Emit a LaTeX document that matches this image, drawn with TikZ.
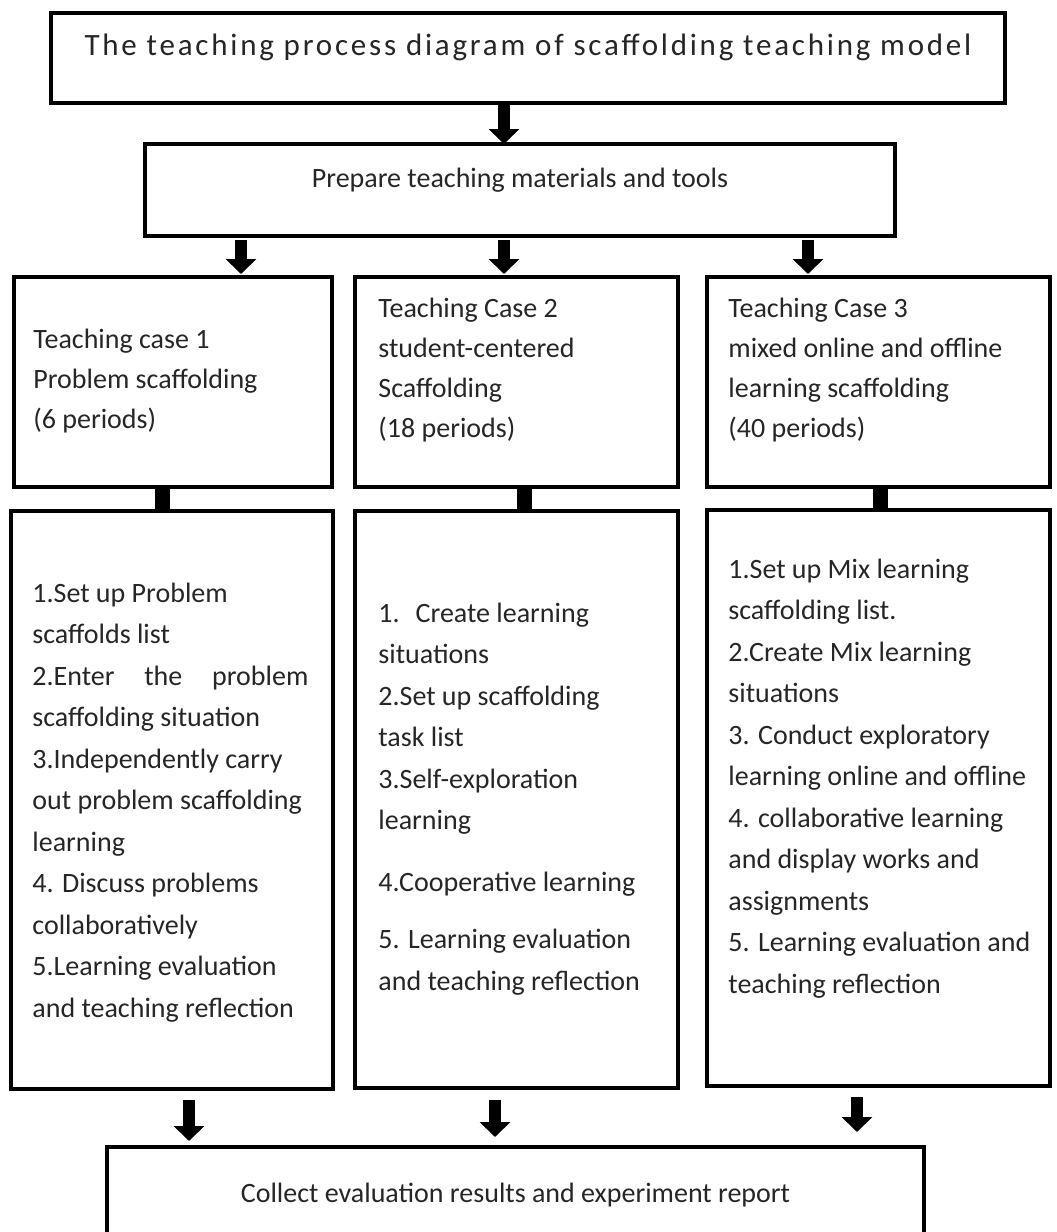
\documentclass[tikz,border=0pt]{standalone}
\usepackage{fontspec}
\setmainfont{Carlito}
\usetikzlibrary{arrows.meta,fit}
\begin{document}
\begin{tikzpicture}[x=0.5pt,y=-0.5pt,
  frame/.style={draw, line width=1.6pt, inner sep=0pt, outer sep=0pt},
  body/.style={align=flush left, inner sep=0pt, text=black!85, font=\fontsize{14}{20}\selectfont},
  listtext/.style={body, font=\fontsize{14}{20.75}\selectfont},
  blockarrow/.style={line width=6pt, -{Triangle[width=15pt,length=7.5pt]}},
  stem/.style={line width=7.75pt}]
\clip (0,0) rectangle (1056,1232);
\fill[white] (0,0) rectangle (1056,1232);

% column positions of the arrows and stems
\coordinate (m0) at (504,0);
\coordinate (m1) at (241,0);
\coordinate (m2) at (504,0);
\coordinate (m3) at (808,0);
\coordinate (k1) at (162.5,0);
\coordinate (k2) at (524.5,0);
\coordinate (k3) at (880.5,0);
\coordinate (n1) at (189,0);
\coordinate (n2) at (495,0);
\coordinate (n3) at (857,0);

% heading and preparation
\node[frame, fit={(51,13)(1005,103)}, text=black!85,
      font=\fontsize{15.5}{18}\selectfont\addfontfeatures{LetterSpace=9}] (title)
  {The teaching process diagram of scaffolding teaching model};
\node[frame, fit={(145,144)(895,236)}, text=black!85,
      font=\fontsize{14}{18}\selectfont] (prep)
  {Prepare teaching materials and tools};

% the three teaching cases
\node[frame, fit={(14,277)(332,487)}] (c1) {};
\node[frame, fit={(355,277)(678,487)}] (c2) {};
\node[frame, fit={(707,277)(1050,487)}] (c3) {};
\node[body, anchor=base west, text width=145pt] (c1t) at (33,348)
  {Teaching case 1\\Problem scaffolding\\(6 periods)};
\node[body, anchor=base west, text width=145pt] (c2t) at (378,317)
  {Teaching Case 2\\student-centered\\Scaffolding\\(18 periods)};
\node[body, anchor=base west, text width=160pt] (c3t) at (728,317)
  {Teaching Case 3\\mixed online and offline\\learning scaffolding\\(40 periods)};

% the steps of each case
\node[frame, fit={(11,511)(333,1089)}] (l1) {};
\node[frame, fit={(355,511)(678,1088)}] (l2) {};
\node[frame, fit={(707,510)(1050,1086)}] (l3) {};
\node[listtext, anchor=base west, text width=138pt] (l1t) at (32,602)
  {1.Set up Problem\\
   scaffolds list\\
   2.Enter\hfill the\hfill problem\\
   scaffolding situation\\
   3.Independently carry\\
   out problem scaffolding\\
   learning\\
   4. Discuss problems\\
   collaboratively\\
   5.Learning evaluation\\
   and teaching reflection};
\node[listtext, anchor=base west, text width=145pt] (l2t) at (378,622)
  {1.\hspace{8pt}Create learning\\
   situations\\
   2.Set up scaffolding\\
   task list\\
   3.Self-exploration\\
   learning\\[10pt]
   4.Cooperative learning\\[8pt]
   5. Learning evaluation\\
   and teaching reflection};
\node[listtext, anchor=base west, text width=160pt] (l3t) at (728,578)
  {1.Set up Mix learning\\
   scaffolding list.\\
   2.Create Mix learning\\
   situations\\
   3. Conduct exploratory\\
   learning online and offline\\
   4. collaborative learning\\
   and display works and\\
   assignments\\
   5. Learning evaluation and\\
   teaching reflection};

% collection of results
\node[frame, fit={(107,1147)(924,1300)}] (bottom) {};
\node[body, anchor=base] (bottomt) at (515.5,1202)
  {Collect evaluation results and experiment report};

% connectors
\draw[blockarrow] (title.south -| m0) -- (prep.north -| m0);
\draw[blockarrow, shorten <=2pt, shorten >=1.5pt] (prep.south -| m1) -- (c1.north -| m1);
\draw[blockarrow, shorten <=2pt, shorten >=1.5pt] (prep.south -| m2) -- (c2.north -| m2);
\draw[blockarrow, shorten <=2pt, shorten >=1.5pt] (prep.south -| m3) -- (c3.north -| m3);
\draw[stem] (c1.south -| k1) -- (l1.north -| k1);
\draw[stem] (c2.south -| k2) -- (l2.north -| k2);
\draw[stem] (c3.south -| k3) -- (l3.north -| k3);
\draw[blockarrow, shorten <=5.5pt, shorten >=3pt] (l1.south -| n1) -- (bottom.north -| n1);
\draw[blockarrow, shorten <=6pt, shorten >=5pt] (l2.south -| n2) -- (bottom.north -| n2);
\draw[blockarrow, shorten <=5.5pt, shorten >=7.5pt] (l3.south -| n3) -- (bottom.north -| n3);
\end{tikzpicture}
\end{document}
